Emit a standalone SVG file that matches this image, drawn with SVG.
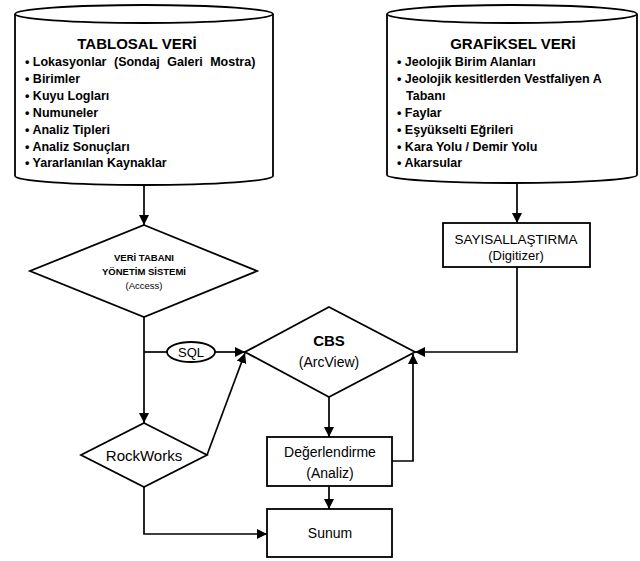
<svg xmlns="http://www.w3.org/2000/svg" width="640" height="561" viewBox="0 0 640 561">
<defs>
<marker id="arr" markerUnits="userSpaceOnUse" markerWidth="11" markerHeight="11" refX="10" refY="5" orient="auto">
<path d="M0,0 L10,5 L0,10 z" fill="#000"/>
</marker>
<style>
.s{fill:#fff;stroke:#000;stroke-width:1.8}
.c{fill:none;stroke:#000;stroke-width:1.7}
.a{marker-end:url(#arr)}
text{font-family:"Liberation Sans",Arial,sans-serif;fill:#000}
.t{font-size:15px;font-weight:bold;text-anchor:middle}
.li{font-size:12.5px;font-weight:bold}
.m{text-anchor:middle}
</style>
</defs>
<rect width="640" height="561" fill="#fff"/>

<g id="tablosal">
<path class="s" d="M15,14 L15,176 A129,9 0 0 0 273,176 L273,14"/>
<ellipse class="s" cx="144" cy="14" rx="129" ry="9"/>
<text class="t" x="137" y="49">TABLOSAL VERİ</text>
<text class="li" x="25" y="66">• Lokasyonlar<tspan word-spacing="4"> (Sondaj Galeri Mostra)</tspan></text>
<text class="li" x="25" y="83">• Birimler</text>
<text class="li" x="25" y="100">• Kuyu Logları</text>
<text class="li" x="25" y="117">• Numuneler</text>
<text class="li" x="25" y="134">• Analiz Tipleri</text>
<text class="li" x="25" y="151">• Analiz Sonuçları</text>
<text class="li" x="25" y="167">• Yararlanılan Kaynaklar</text>
</g>

<g id="grafiksel">
<path class="s" d="M387,14 L387,175 A125,8 0 0 0 637,175 L637,14"/>
<ellipse class="s" cx="512" cy="14" rx="125" ry="9"/>
<text class="t" x="513" y="49">GRAFİKSEL VERİ</text>
<text class="li" x="397" y="66">• Jeolojik Birim Alanları</text>
<text class="li" x="397" y="83">• Jeolojik kesitlerden Vestfaliyen A</text>
<text class="li" x="406" y="100">Tabanı</text>
<text class="li" x="397" y="117">• Faylar</text>
<text class="li" x="397" y="134">• Eşyükselti Eğrileri</text>
<text class="li" x="397" y="151">• Kara Yolu / Demir Yolu</text>
<text class="li" x="397" y="167">• Akarsular</text>
</g>

<g id="vtys">
<path class="s" d="M144,225 L257,271 L144,317 L30,271 z"/>
<text class="m" x="144" y="261" font-size="9.5" font-weight="bold">VERİ TABANI</text>
<text class="m" x="144" y="275" font-size="9.5" font-weight="bold">YÖNETİM SİSTEMİ</text>
<text class="m" x="144" y="289" font-size="9.5">(Access)</text>
</g>

<g id="sayisal">
<rect class="s" x="443" y="223" width="147" height="44"/>
<text class="m" x="516" y="244" font-size="13.5">SAYISALLAŞTIRMA</text>
<text class="m" x="516" y="260" font-size="13">(Digitizer)</text>
</g>

<g id="sql">
<ellipse class="s" cx="191" cy="352" rx="24" ry="10"/>
<text class="m" x="191" y="357" font-size="13">SQL</text>
</g>

<g id="cbs">
<path class="s" d="M329,307 L415,352 L329,397 L245,352 z"/>
<text class="m" x="329" y="346" font-size="15" font-weight="bold">CBS</text>
<text class="m" x="329" y="367" font-size="14">(ArcView)</text>
</g>

<g id="rockworks">
<path class="s" d="M144,423 L207,455 L144,487 L81,455 z"/>
<text class="m" x="144" y="461" font-size="15">RockWorks</text>
</g>

<g id="degerlendirme">
<rect class="s" x="267" y="437" width="125" height="49"/>
<text class="m" x="330" y="457" font-size="14">Değerlendirme</text>
<text class="m" x="330" y="478" font-size="14">(Analiz)</text>
</g>

<g id="sunum">
<rect class="s" x="267" y="509" width="125" height="48"/>
<text class="m" x="330" y="538" font-size="14">Sunum</text>
</g>

<g id="connectors">
<path class="c a" d="M144,185 L144,225"/>
<path class="c a" d="M517,182 L517,223"/>
<path class="c a" d="M144,317 L144,423"/>
<path class="c" d="M144,352 L167,352"/>
<path class="c a" d="M215,352 L245,352"/>
<path class="c a" d="M207,455 L245,353"/>
<path class="c a" d="M517,267 L517,352 L415,352"/>
<path class="c a" d="M329,397 L329,437"/>
<path class="c a" d="M392,461 L413,461 L413,354"/>
<path class="c a" d="M329,486 L329,509"/>
<path class="c a" d="M144,487 L144,534 L267,534"/>
</g>
</svg>
